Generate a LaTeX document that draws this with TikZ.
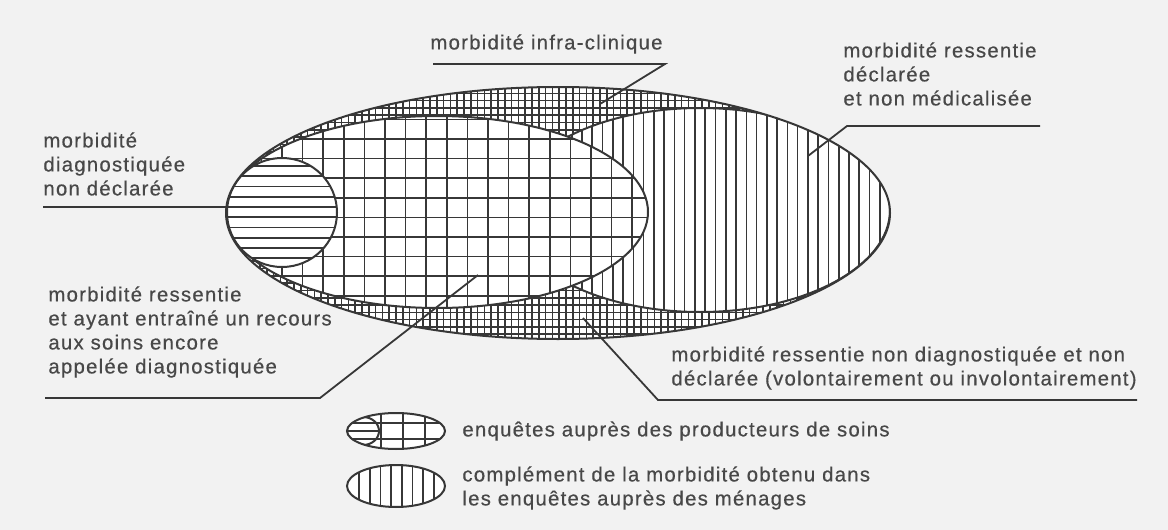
\documentclass[tikz,border=0pt]{standalone}
\usepackage{fontspec}
\setmainfont{Liberation Sans}[LetterSpace=6,FakeBold=0.5]
\definecolor{bg}{RGB}{242,242,242}
\definecolor{ink}{RGB}{55,55,55}
\definecolor{txt}{RGB}{72,72,72}
\begin{document}
\begin{tikzpicture}[x=0.5pt,y=-0.5pt,
  hatch/.style={ink,line width=0.8pt},
  rim/.style={ink,line width=1pt},
  lead/.style={ink,line width=0.9pt},
  lbl/.style={txt,inner sep=0pt,align=left,font=\fontsize{10.2pt}{12pt}\selectfont}]
\fill[bg] (0,0) rectangle (1168,530);
\useasboundingbox (0,0) rectangle (1168,530);
% ---------- outer ellipse: fine cross-hatch
\begin{scope}
  \clip (558,213) ellipse [x radius=332, y radius=126];
  \fill[white] (200,60) rectangle (900,360);
  \foreach \x in {226,232.8,...,892} \draw[hatch] (\x,80) -- (\x,345);
  \foreach \y in {86,93.3,...,342} \draw[hatch] (220,\y) -- (895,\y);
  % ---------- right ellipse: vertical lines
  \begin{scope}
    \clip (700,210) ellipse [x radius=190, y radius=102];
    \fill[white] (500,100) rectangle (900,320);
    \foreach \x in {510.1,520.37,...,895} \draw[hatch] (\x,100) -- (\x,320);
  \end{scope}
  \draw[rim] (700,210) ellipse [x radius=190, y radius=102];
  % ---------- coarse ellipse: grid
  \begin{scope}
    \clip (437,212) ellipse [x radius=211, y radius=96];
    \fill[white] (220,110) rectangle (660,315);
    \foreach \x in {220.2,240.8,...,652} \draw[hatch] (\x,110) -- (\x,315);
    \foreach \y in {119.4,139,...,312} \draw[hatch] (220,\y) -- (660,\y);
  \end{scope}
  \draw[rim] (437,212) ellipse [x radius=211, y radius=96];
  % ---------- small circle: horizontal lines
  \begin{scope}
    \clip (282,212.5) ellipse [x radius=55, y radius=54.5];
    \fill[white] (220,150) rectangle (345,275);
    \foreach \y in {155.75,166,...,270} \draw[hatch] (220,\y) -- (345,\y);
  \end{scope}
  \draw[rim] (282,212.5) ellipse [x radius=55, y radius=54.5];
\end{scope}
\draw[rim] (558,213) ellipse [x radius=332, y radius=126];
% ---------- labels
\node[lbl,anchor=north west] (infra) at (430,34) {morbidité infra-clinique};
\node[lbl,anchor=north west] (decl) at (843,42) {morbidité ressentie\\déclarée\\et non médicalisée};
\node[lbl,anchor=north west] (diag) at (43,132) {morbidité\\diagnostiquée\\non déclarée};
\node[lbl,anchor=north west] (rec) at (48,286) {morbidité ressentie\\et ayant entraîné un recours\\aux soins encore\\appelée diagnostiquée};
\node[lbl,anchor=north west] (nond) at (671,346) {morbidité ressentie non diagnostiquée et non\\déclarée (volontairement ou involontairement)};
% ---------- leaders
\coordinate (infraA) at (433,64);  \coordinate (infraB) at (665,64);  \coordinate (infraP) at (600,104);
\coordinate (declA) at (1040,126); \coordinate (declB) at (847,126);  \coordinate (declP) at (808,156);
\coordinate (diagA) at (43,207);   \coordinate (diagP) at (273,207);
\coordinate (recA) at (45,398);    \coordinate (recB) at (320,398);   \coordinate (recP) at (478,275);
\coordinate (nondA) at (1137,400); \coordinate (nondB) at (658,400);  \coordinate (nondP) at (583,318);
\draw[lead] (infraA) -- (infraB) -- (infraP);
\draw[lead] (declA) -- (declB) -- (declP);
\draw[lead] (diagA) -- (diagP);
\draw[lead] (recA) -- (recB) -- (recP);
\draw[lead] (nondA) -- (nondB) -- (nondP);
% ---------- legend 1
\begin{scope}
  \clip (396,431) ellipse [x radius=49, y radius=18];
  \fill[white] (340,410) rectangle (450,455);
  \foreach \x in {381,403,425} \draw[hatch] (\x,410) -- (\x,455);
  \foreach \y in {423,439} \draw[hatch] (340,\y) -- (450,\y);
  \begin{scope}
    \clip (363,431) ellipse [x radius=16, y radius=14];
    \fill[white] (340,410) rectangle (390,455);
    \foreach \y in {423,431,439} \draw[hatch] (340,\y) -- (390,\y);
  \end{scope}
  \draw[rim] (363,431) ellipse [x radius=16, y radius=14];
\end{scope}
\draw[rim] (396,431) ellipse [x radius=49, y radius=18];
\node[lbl,anchor=west] (leg1t) at (462,431) {enquêtes auprès des producteurs de soins};
% ---------- legend 2
\begin{scope}
  \clip (396,486) ellipse [x radius=49, y radius=21];
  \fill[white] (340,462) rectangle (450,510);
  \foreach \x in {359,369.7,...,440} \draw[hatch] (\x,462) -- (\x,510);
\end{scope}
\draw[rim] (396,486) ellipse [x radius=49, y radius=21];
\node[lbl,anchor=north west] (leg2t) at (462,466) {complément de la morbidité obtenu dans\\les enquêtes auprès des ménages};
\end{tikzpicture}
\end{document}
